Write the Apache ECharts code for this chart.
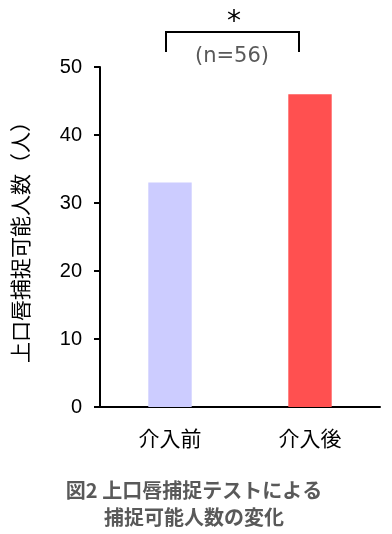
<!DOCTYPE html>
<html>
<head>
<meta charset="utf-8">
<script src="https://cdn.jsdelivr.net/npm/echarts@6/dist/echarts.min.js"></script>
<style>
html,body{margin:0;padding:0;background:#fff;}
#c{width:392px;height:534px;}
</style>
</head>
<body>
<div id="c"></div>
<script>
const categories = ['介入前', '介入後'];
const values = [33, 46];
const barColors = ['#ccccff', '#ff5050'];
const yTicks = [0, 10, 20, 30, 40, 50];
const yName = '上口唇捕捉可能人数（人）';
const caption = '図2 上口唇捕捉テストによる\n捕捉可能人数の変化';
const sampleLabel = '(n=56)';
const sigLabel = '*';

const cjk = '"Noto Sans CJK JP", "Noto Sans", sans-serif';
const num = '"Liberation Sans", Arial, sans-serif';

const chart = echarts.init(document.getElementById('c'), null, {renderer: 'canvas'});
chart.setOption({
  animation: false,
  backgroundColor: '#fff',
  grid: {left: 100, right: 12, top: 67, bottom: 127, containLabel: false},
  xAxis: {
    type: 'category',
    data: categories,
    axisLine: {lineStyle: {color: '#000', width: 2}},
    axisTick: {show: false},
    axisLabel: {fontSize: 21, color: '#000', fontFamily: cjk, margin: 21}
  },
  yAxis: {
    type: 'value',
    min: yTicks[0],
    max: yTicks[yTicks.length - 1],
    interval: 10,
    name: yName,
    nameLocation: 'middle',
    nameGap: 69,
    nameRotate: 90,
    nameTextStyle: {fontSize: 21, color: '#000', fontFamily: cjk},
    axisLine: {show: true, lineStyle: {color: '#000', width: 2}},
    axisTick: {show: true, inside: false, length: 6, lineStyle: {color: '#000', width: 2}},
    axisLabel: {fontSize: 20, color: '#000', fontFamily: num, margin: 18},
    splitLine: {show: false}
  },
  series: [{
    type: 'bar',
    barWidth: '31%',
    data: values.map((v, i) => ({value: v, itemStyle: {color: barColors[i]}}))
  }],
  graphic: [
    {type: 'polyline', shape: {points: [[166, 52], [166, 32], [299, 32], [299, 52]]},
     style: {stroke: '#000', lineWidth: 2, fill: null}},
    {type: 'text', x: 234, y: 23, style: {text: sigLabel, fontSize: 28, fill: '#000', fontFamily: '"DejaVu Sans", sans-serif', align: 'center', verticalAlign: 'middle'}},
    {type: 'text', x: 232, y: 57, style: {text: sampleLabel, fontSize: 21, fill: '#595959', fontFamily: '"DejaVu Sans", sans-serif', align: 'center', verticalAlign: 'middle'}},
    {type: 'text', x: 194, y: 504, style: {text: caption, fontSize: 20, fontWeight: 'bold', fill: '#595959', fontFamily: cjk, align: 'center', verticalAlign: 'middle', lineHeight: 27}}
  ]
});
</script>
</body>
</html>
